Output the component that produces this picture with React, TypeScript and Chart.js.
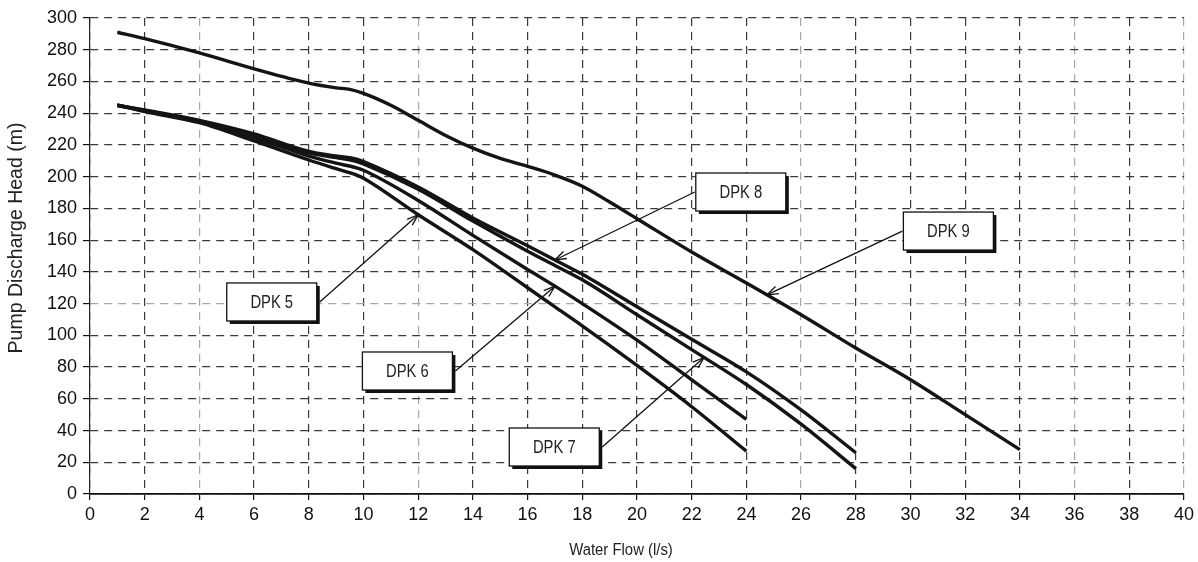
import React, { useEffect, useRef } from "react";
import { Chart, registerables } from "chart.js";

Chart.register(...registerables);

// Pump curves: water flow (l/s) against discharge head (m)
const flowShort = [1, 2, 4, 6, 8, 9, 9.75, 10, 12, 14, 16, 17, 18, 20, 22, 24];
const headDpk5 = [245, 241, 234, 222.5, 210.5, 205, 201, 199, 176, 154, 130, 118, 106, 81, 55, 27];
const headDpk6 = [245, 241.5, 234.5, 224.5, 213, 208.5, 205.5, 204, 185, 163, 141.5, 131, 120, 97, 72, 47];

const flowMid = [1, 2, 4, 6, 8, 9, 9.75, 10, 12, 14, 16, 17, 18, 20, 22, 24, 26, 28];
const headDpk7 = [245, 241.7, 235, 226, 215, 212, 209.5, 208, 192, 172, 153, 144, 135, 113, 91, 69, 44, 16];
const headDpk8 = [245, 242, 235.5, 227, 216, 213, 211, 209.5, 193.5, 174, 156.5, 147.5, 138.5, 118, 97.5, 77, 53, 26];

const flowDpk9 = [1, 2, 4, 6, 8, 9, 9.5, 10, 11, 12, 13, 14, 15, 16, 17, 18, 19, 20, 22, 24, 26, 28, 30, 32, 34];
const headDpk9 = [291, 287, 278, 268, 259, 256, 255, 252.5, 245, 235.5, 226, 218, 211.5, 206.5, 201, 194, 184, 173.5, 152.5, 133, 113, 92, 72, 50, 28];

const seriesNames = ["DPK 5", "DPK 6", "DPK 7", "DPK 8", "DPK 9"];
const seriesFlows = [flowShort, flowShort, flowMid, flowMid, flowDpk9];
const seriesHeads = [headDpk5, headDpk6, headDpk7, headDpk8, headDpk9];

// Axis ranges and tick spacing
const flowMax = 40;
const flowStep = 2;
const headMax = 300;
const headStep = 20;
const xTitle = "Water Flow (l/s)";
const yTitle = "Pump Discharge Head (m)";

// Callout layout: box corner (in axis units), arrow side, arrow target flow
const calloutLayout = [
  { series: 0, boxFlow: 5.0, boxHead: 133, side: "right", targetFlow: 12 },
  { series: 1, boxFlow: 9.96, boxHead: 89.5, side: "right", targetFlow: 17 },
  { series: 2, boxFlow: 15.33, boxHead: 41.6, side: "right", targetFlow: 22.45 },
  { series: 3, boxFlow: 22.15, boxHead: 202.3, side: "left", targetFlow: 17 },
  { series: 4, boxFlow: 29.74, boxHead: 177.7, side: "left", targetFlow: 24.75 },
];

const lightFlowLines = new Set([4, 12, 26, 36, 40]);
const lightHeadLines = new Set([120]);

function headAt(flows: number[], heads: number[], f: number): number {
  for (let i = 0; i < flows.length - 1; i++) {
    if (f >= flows[i] && f <= flows[i + 1]) {
      const t = (f - flows[i]) / (flows[i + 1] - flows[i]);
      return heads[i] + t * (heads[i + 1] - heads[i]);
    }
  }
  return heads[heads.length - 1];
}

function narrowText(ctx: CanvasRenderingContext2D, text: string, x: number, y: number, font: string, sx: number) {
  ctx.save();
  ctx.font = font;
  ctx.textAlign = "center";
  ctx.textBaseline = "middle";
  ctx.translate(x, y);
  ctx.scale(sx, 1);
  ctx.fillText(text, 0, 0);
  ctx.restore();
}

const calloutPlugin = {
  id: "callouts",
  afterDraw(chart: any) {
    const ctx: CanvasRenderingContext2D = chart.ctx;
    const xs = chart.scales.x;
    const ys = chart.scales.y;
    const boxW = 90;
    const boxH = 38;

    ctx.save();
    ctx.fillStyle = "#222";
    // axis titles
    narrowText(ctx, xTitle, 621, 551, "16px 'Liberation Sans', Arial, sans-serif", 0.93);
    ctx.save();
    ctx.translate(17, 238);
    ctx.rotate(-Math.PI / 2);
    ctx.font = "19.5px 'Liberation Sans', Arial, sans-serif";
    ctx.textAlign = "center";
    ctx.textBaseline = "middle";
    ctx.fillText(yTitle, 0, 0);
    ctx.restore();

    for (const c of calloutLayout) {
      const bx = xs.getPixelForValue(c.boxFlow);
      const by = ys.getPixelForValue(c.boxHead);
      const tx = xs.getPixelForValue(c.targetFlow);
      const ty = ys.getPixelForValue(headAt(seriesFlows[c.series], seriesHeads[c.series], c.targetFlow));
      const sx = c.side === "right" ? bx + boxW + 3 : bx - 1;
      const sy = by + boxH / 2;

      // arrow shaft
      ctx.strokeStyle = "#111";
      ctx.lineWidth = 1.3;
      ctx.beginPath();
      ctx.moveTo(sx, sy);
      ctx.lineTo(tx, ty);
      ctx.stroke();
      // open arrow head
      const ang = Math.atan2(ty - sy, tx - sx);
      const len = 12;
      const spread = 0.33;
      ctx.beginPath();
      ctx.moveTo(tx - len * Math.cos(ang - spread), ty - len * Math.sin(ang - spread));
      ctx.lineTo(tx, ty);
      ctx.lineTo(tx - len * Math.cos(ang + spread), ty - len * Math.sin(ang + spread));
      ctx.stroke();

      // box with drop shadow
      ctx.fillStyle = "#111";
      ctx.fillRect(bx + 3, by + 3, boxW, boxH);
      ctx.fillStyle = "#fff";
      ctx.fillRect(bx, by, boxW, boxH);
      ctx.strokeStyle = "#111";
      ctx.lineWidth = 1.3;
      ctx.strokeRect(bx, by, boxW, boxH);
      ctx.fillStyle = "#222";
      narrowText(ctx, seriesNames[c.series], bx + boxW / 2, by + boxH / 2 + 1, "18px 'Liberation Sans', Arial, sans-serif", 0.82);
    }
    ctx.restore();
  },
};

export default function App() {
  const canvasRef = useRef<HTMLCanvasElement | null>(null);

  useEffect(() => {
    if (!canvasRef.current) return;
    const datasets = seriesNames.map((name, i) => ({
      label: name,
      data: seriesFlows[i].map((f, j) => ({ x: f, y: seriesHeads[i][j] })),
      borderColor: "#141414",
      borderWidth: 3.4,
      pointRadius: 0,
      fill: false,
      cubicInterpolationMode: "monotone" as const,
      borderCapStyle: "butt" as const,
    }));

    const tickFont = { family: "'Liberation Sans', Arial, sans-serif", size: 18 };

    const chart = new Chart(canvasRef.current, {
      type: "line",
      data: { datasets },
      options: {
        animation: false,
        responsive: false,
        layout: { padding: { top: 18, right: 12, bottom: 0, left: 0 } },
        plugins: { legend: { display: false }, tooltip: { enabled: false }, title: { display: false } },
        scales: {
          x: {
            type: "linear",
            min: 0,
            max: flowMax,
            afterFit: (s: any) => {
              s.height = 68;
            },
            ticks: { stepSize: flowStep, color: "#111", font: tickFont, padding: 4, maxRotation: 0, autoSkip: false },
            grid: {
              color: (c: any) => (c.tick && lightFlowLines.has(c.tick.value) ? "#a6a6a6" : "#3a3a3a"),
              lineWidth: 1.2,
              tickLength: 6,
              tickColor: "#111",
              tickWidth: 1.2,
            },
            border: { display: true, color: "#111", width: 1.8, dash: [8, 6] },
          },
          y: {
            type: "linear",
            min: 0,
            max: headMax,
            afterFit: (s: any) => {
              s.width = 90;
            },
            ticks: { stepSize: headStep, color: "#111", font: tickFont, padding: 6 },
            grid: {
              color: (c: any) => (c.tick && lightHeadLines.has(c.tick.value) ? "#a6a6a6" : "#3a3a3a"),
              lineWidth: 1.2,
              tickLength: 7,
              tickColor: "#111",
              tickWidth: 1.2,
            },
            border: { display: true, color: "#222", width: 1.2, dash: [8, 6] },
          },
        },
      },
      plugins: [calloutPlugin],
    });
    return () => chart.destroy();
  }, []);

  return (
    <div style={{ position: "absolute", left: 0, top: 0, width: 1198, height: 562, background: "#fff" }}>
      <canvas ref={canvasRef} width={1198} height={562} style={{ display: "block" }} />
    </div>
  );
}
